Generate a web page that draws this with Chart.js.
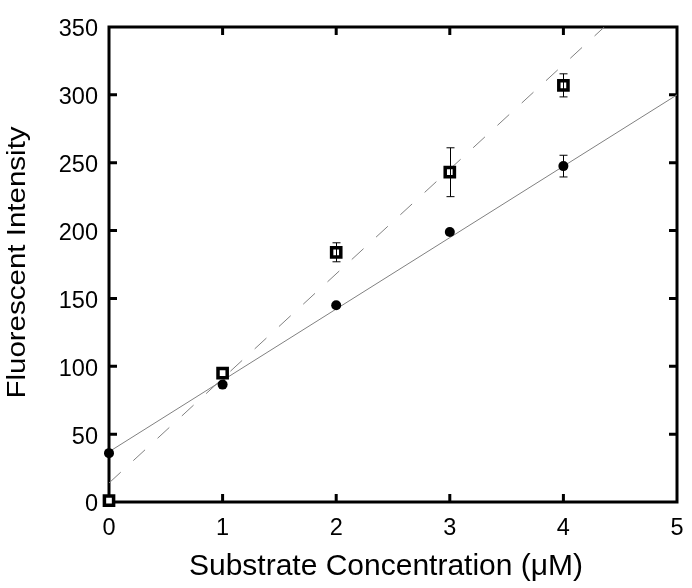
<!DOCTYPE html>
<html>
<head>
<meta charset="utf-8">
<script src="https://cdn.jsdelivr.net/npm/chart.js@4/dist/chart.umd.min.js"></script>
<style>
    html, body { margin: 0; padding: 0; background: #fff; }
    canvas { display: block; }
</style>
</head>
<body>
<canvas id="chart" width="692" height="588"></canvas>
<script>
// concentrations (uM)
const xValues = [0, 1, 2, 3, 4];
// filled circles
const circleValues = [36, 86.5, 145, 199, 247.5];
const circleErrors = [0, 0, 0, 0, 8];
// open squares
const squareValues = [1, 95, 184, 243, 307];
const squareErrors = [0, 0, 7, 18, 8.5];
// fitted lines (end points)
const solidFitX = [0, 5];
const solidFitY = [37, 300];
const dashedFitX = [0, 4.36];
const dashedFitY = [14, 350];
// axis ticks
const xTicks = [0, 1, 2, 3, 4, 5];
const yTicks = [0, 50, 100, 150, 200, 250, 300, 350];
// axis titles
const xTitle = "Substrate Concentration (\u03bcM)";
const yTitle = "Fluorescent Intensity";

const FONT = "'Liberation Sans', Arial, Helvetica, sans-serif";

const toPoints = (xs, ys) => xs.map((x, i) => ({ x: x, y: ys[i] }));

// frame with inward ticks on all four sides, error bars, axis titles
const framePlugin = {
    id: "frame",
    beforeDatasetsDraw(chart) {
        const { ctx, chartArea: a, scales } = chart;
        ctx.save();
        ctx.strokeStyle = "#000";
        ctx.lineWidth = 3;
        ctx.strokeRect(a.left, a.top, a.right - a.left, a.bottom - a.top);
        const len = 8;
        ctx.beginPath();
        xTicks.slice(1, -1).forEach(v => {
            const px = scales.x.getPixelForValue(v);
            ctx.moveTo(px, a.bottom); ctx.lineTo(px, a.bottom - len);
            ctx.moveTo(px, a.top); ctx.lineTo(px, a.top + len);
        });
        yTicks.slice(1, -1).forEach(v => {
            const py = scales.y.getPixelForValue(v);
            ctx.moveTo(a.left, py); ctx.lineTo(a.left + len, py);
            ctx.moveTo(a.right, py); ctx.lineTo(a.right - len, py);
        });
        ctx.stroke();
        ctx.restore();
    },
    afterDatasetsDraw(chart) {
        const { ctx, scales, chartArea: a } = chart;
        ctx.save();
        ctx.strokeStyle = "#000";
        ctx.lineWidth = 1;
        const draw = (vals, errs) => {
            vals.forEach((v, i) => {
                if (!errs[i]) return;
                const px = Math.round(scales.x.getPixelForValue(xValues[i])) + 0.5;
                const top = scales.y.getPixelForValue(v + errs[i]);
                const bot = scales.y.getPixelForValue(v - errs[i]);
                ctx.beginPath();
                ctx.moveTo(px, top); ctx.lineTo(px, bot);
                ctx.moveTo(px - 4, top); ctx.lineTo(px + 4, top);
                ctx.moveTo(px - 4, bot); ctx.lineTo(px + 4, bot);
                ctx.stroke();
            });
        };
        draw(circleValues, circleErrors);
        draw(squareValues, squareErrors);

        // axis titles
        ctx.fillStyle = "#000";
        ctx.textAlign = "center";
        ctx.textBaseline = "alphabetic";
        ctx.font = "30px " + FONT;
        ctx.fillText(xTitle, (a.left + a.right) / 2 - 7, 575);

        ctx.translate(25, (a.top + a.bottom) / 2 - 2);
        ctx.rotate(-Math.PI / 2);
        ctx.scale(1, 0.85);
        ctx.font = "29.5px " + FONT;
        ctx.fillText(yTitle, 0, 0);
        ctx.restore();
    }
};

new Chart(document.getElementById("chart"), {
    type: "scatter",
    data: {
        datasets: [
            {
                type: "line",
                data: toPoints(solidFitX, solidFitY),
                borderColor: "#808080",
                borderWidth: 1,
                pointRadius: 0,
                order: 3
            },
            {
                type: "line",
                data: toPoints(dashedFitX, dashedFitY),
                borderColor: "#808080",
                borderWidth: 1,
                borderDash: [16, 17],
                pointRadius: 0,
                order: 3
            },
            {
                data: toPoints(xValues, circleValues),
                pointStyle: "circle",
                pointRadius: 5,
                backgroundColor: "#000",
                borderColor: "#000",
                borderWidth: 0,
                clip: false,
                order: 1
            },
            {
                data: toPoints(xValues, squareValues),
                pointStyle: "rect",
                pointRadius: 6.5,
                backgroundColor: "#fff",
                borderColor: "#000",
                borderWidth: 3.5,
                clip: false,
                order: 0
            }
        ]
    },
    options: {
        responsive: false,
        animation: false,
        events: [],
        layout: { padding: { top: 27, right: 15, left: 0, bottom: 0 } },
        plugins: {
            legend: { display: false },
            tooltip: { enabled: false }
        },
        scales: {
            x: {
                type: "linear",
                min: 0,
                max: 5,
                afterBuildTicks: s => { s.ticks = xTicks.map(v => ({ value: v })); },
                grid: { display: false },
                border: { display: false },
                ticks: {
                    color: "#000",
                    padding: 4,
                    font: { family: FONT, size: 23.5 },
                    callback: v => v
                },
                afterFit: s => { s.height = 86; }
            },
            y: {
                type: "linear",
                min: 0,
                max: 350,
                afterBuildTicks: s => { s.ticks = yTicks.map(v => ({ value: v })); },
                grid: { display: false },
                border: { display: false },
                ticks: {
                    color: "#000",
                    padding: 3,
                    labelOffset: 3,
                    font: { family: FONT, size: 23.5 },
                    callback: v => v
                },
                afterFit: s => { s.width = 109; }
            }
        }
    },
    plugins: [framePlugin]
});
</script>
</body>
</html>
